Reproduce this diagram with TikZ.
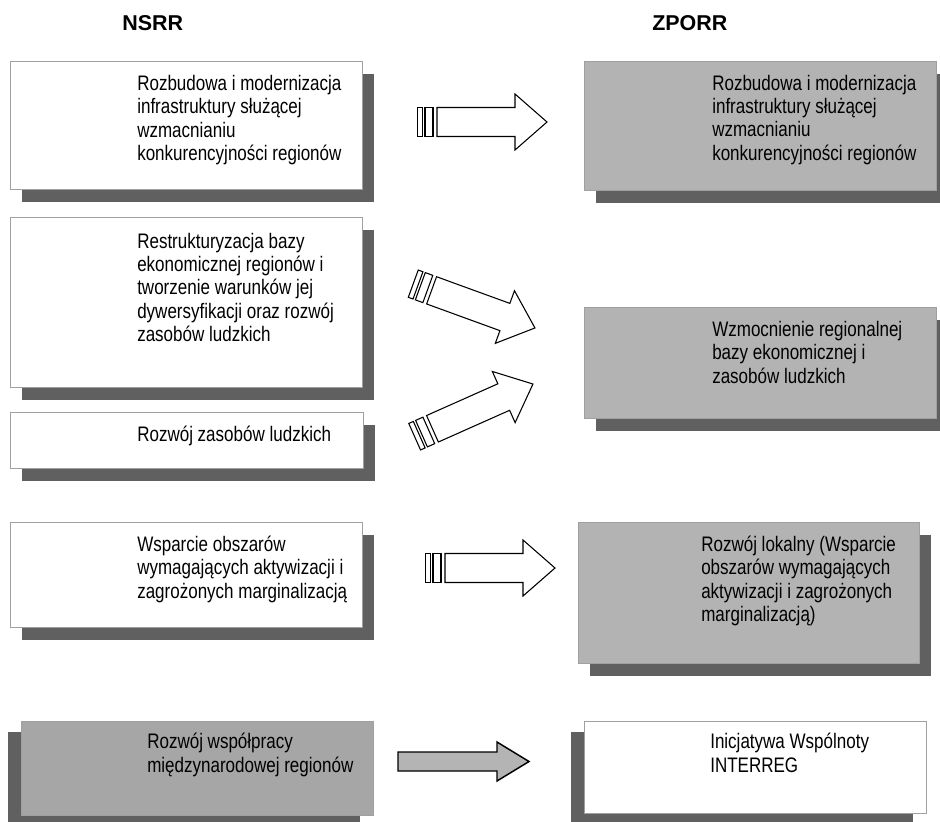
\documentclass[tikz,border=0pt]{standalone}
\usepackage{fontspec}
\setmainfont{Liberation Sans}[FakeStretch=0.81]
\newfontfamily\headfont{Liberation Sans}
\usetikzlibrary{shadows}
\definecolor{shadowc}{RGB}{96,96,96}
\definecolor{boxgray}{RGB}{179,179,179}
\definecolor{boxgrayb}{RGB}{166,166,166}
\definecolor{edgec}{RGB}{160,160,160}
\definecolor{arrowgray}{RGB}{180,180,180}
\tikzset{
 box/.style={draw=edgec, line width=0.75pt, inner sep=0pt, outer sep=0pt, anchor=north west},
 shadowR/.style={drop shadow={shadow xshift=9pt, shadow yshift=-9.4pt, opacity=1, fill=shadowc}},
 shadowL/.style={drop shadow={shadow xshift=-10.1pt, shadow yshift=-8.6pt, opacity=1, fill=shadowc}},
 txt/.style={anchor=north west, inner sep=0pt, align=left, font=\fontsize{15.75pt}{17.5pt}\selectfont},
 head/.style={anchor=base west, inner sep=0pt, font=\headfont\bfseries\fontsize{16.1pt}{19pt}\selectfont},
 arrowline/.style={draw=black, line width=0.8pt, line join=miter},
 stripedarrow/.pic={
   \draw[arrowline, fill=white] (0.5,-14.5) rectangle (5.5,14.5);
   \draw[arrowline, fill=white] (8,-14.5) rectangle (16,14.5);
   \draw[arrowline, fill=white] (20,-14.5) -- (98,-14.5) -- (98,-28) -- (130,0) -- (98,28) -- (98,14.5) -- (20,14.5) -- cycle;
 }
}
\begin{document}
\begin{tikzpicture}[x=0.75pt, y=-0.75pt]
\clip (0,0) rectangle (940,822);
\fill[white] (0,0) rectangle (940,822);

% headings
\node[head] (hl) at (122,30) {NSRR};
\node[head] (hr) at (652,30) {ZPORR};

% left column boxes
\node[box, shadowR, fill=white, minimum width=264pt, minimum height=96pt] (L1) at (10,61) {};
\node[box, shadowR, fill=white, minimum width=264pt, minimum height=127.5pt] (L2) at (10,217) {};
\node[box, shadowR, fill=white, minimum width=264.75pt, minimum height=42pt] (L3) at (10,412) {};
\node[box, shadowR, fill=white, minimum width=264pt, minimum height=78.75pt] (L4) at (10,522) {};
\node[box, shadowL, fill=boxgrayb, minimum width=264pt, minimum height=70.5pt] (L5) at (21,721) {};

% right column boxes
\node[box, shadowR, fill=boxgray, minimum width=264pt, minimum height=96.75pt] (R1) at (584,61) {};
\node[box, shadowR, fill=boxgray, minimum width=264pt, minimum height=83.25pt] (R2) at (584,307) {};
\node[box, shadowR, fill=boxgray, minimum width=255.75pt, minimum height=105.75pt] (R3) at (578,522) {};
\node[box, shadowL, fill=white, minimum width=256.5pt, minimum height=69pt] (R5) at (584,721) {};

% texts
\node[txt] (tL1) at (137,74.9) {Rozbudowa i modernizacja\\infrastruktury służącej\\wzmacnianiu\\konkurencyjności regionów};
\node[txt] (tR1) at (712,74.7) {Rozbudowa i modernizacja\\infrastruktury służącej\\wzmacnianiu\\konkurencyjności regionów};
\node[txt] (tL2) at (137,232.6) {Restrukturyzacja bazy\\ekonomicznej regionów i\\tworzenie warunków jej\\dywersyfikacji oraz rozwój\\zasobów ludzkich};
\node[txt] (tL3) at (137,425.6) {Rozwój zasobów ludzkich};
\node[txt] (tR2) at (712,320.9) {Wzmocnienie regionalnej\\bazy ekonomicznej i\\zasobów ludzkich};
\node[txt] (tL4) at (137,535.8) {Wsparcie obszarów\\wymagających aktywizacji i\\zagrożonych marginalizacją};
\node[txt] (tR3) at (701,535.9) {Rozwój lokalny (Wsparcie\\obszarów wymagających\\aktywizacji i zagrożonych\\marginalizacją)};
\node[txt] (tL5) at (147,733.2) {Rozwój współpracy\\międzynarodowej regionów};
\node[txt] (tR5) at (710,733.2) {Inicjatywa Wspólnoty\\INTERREG};

% striped arrows
\pic at (417,122) {stripedarrow};
\pic[rotate=-20] at (412.8,283.5) {stripedarrow};
\pic[rotate=24] at (414.2,436.9) {stripedarrow};
\pic at (425,568) {stripedarrow};

% plain gray arrow
\draw[arrowline, line width=1.1pt, fill=arrowgray] (398,752) -- (497,752) -- (497,742) -- (529,761.5) -- (497,781) -- (497,771) -- (398,771) -- cycle;
\end{tikzpicture}
\end{document}
